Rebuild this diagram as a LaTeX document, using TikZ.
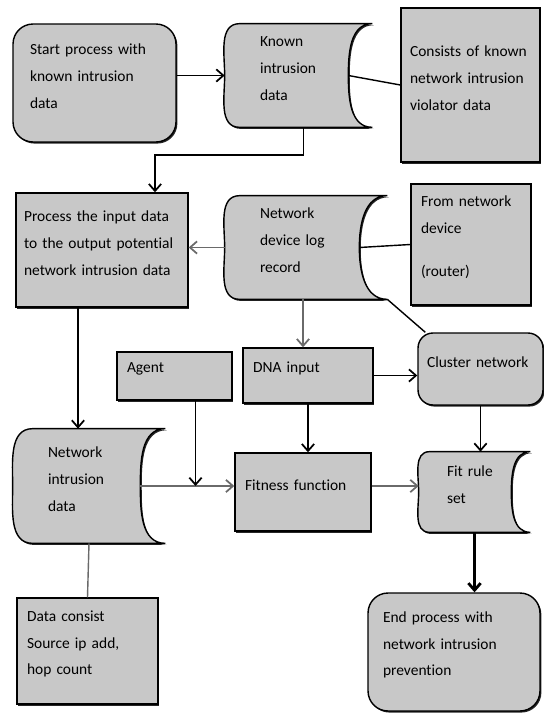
\documentclass[tikz,border=0pt]{standalone}
\usepackage{fontspec}
\setmainfont{Carlito}[Ligatures=NoCommon]
\usetikzlibrary{arrows.meta, shadows, positioning, calc, backgrounds}
\definecolor{boxgray}{HTML}{C8C8C8}
\definecolor{linegray}{HTML}{6A6A6A}

\tikzset{
  % lift the text a little above the middle of its box
  lift/.style={execute at end node={\par\nointerlineskip\hbox{\rule{0pt}{8pt}}}},
  box/.style={draw=black, fill=boxgray, line width=0.8pt, inner xsep=0.2cm, align=left, lift,
    drop shadow={shadow xshift=0.8pt, shadow yshift=-0.9pt, fill=black!85, opacity=1}},
  roundbox/.style={box, rounded corners=0.4cm},
  store/.style={inner xsep=0.7cm, align=left, lift},
  storeshape/.style={draw=black, fill=boxgray, line width=0.8pt,
    drop shadow={shadow xshift=0.8pt, shadow yshift=-0.9pt, fill=black!85, opacity=1}},
  flow/.style={-{Straight Barb[length=4pt, width=7pt]}, line width=1pt},
  grayflow/.style={flow, draw=linegray},
  link/.style={line width=0.8pt}
}

% stored data outline: node, left bulge, right bulge
\newcommand{\storedata}[3]{%
  \path[storeshape] ($(#1.north west)+(#2,0)$) -- (#1.north east)
    to[out=180, in=90] ($(#1.east)+(-#3,0)$) to[out=-90, in=180] (#1.south east)
    -- ($(#1.south west)+(#2,0)$) to[out=180, in=-90] (#1.west)
    to[out=90, in=180] ($(#1.north west)+(#2,0)$) -- cycle;
  \coordinate (#1-in) at ($(#1.east)+(-#3,0)$);
}

\begin{document}
\begin{tikzpicture}[x=0.02cm, y=0.02cm, font=\fontsize{8.8}{15.3}\selectfont]
  \useasboundingbox (0,0) rectangle (544,-713);

  % top row
  \node[roundbox, minimum width=3.26cm, minimum height=2.36cm, inner xsep=0.34cm, text width=2.58cm] (start) at (94.5,-83) {Start process with\\known intrusion\\data};
  \node[store, minimum width=2.94cm, minimum height=2.06cm, text width=1.54cm] (known) at (298.5,-75.5) {Known\\intrusion\\data};
  \node[box, minimum width=2.78cm, minimum height=3.08cm, inner xsep=0.18cm, text width=2.42cm] (consists) at (470.5,-85) {Consists of known\\network intrusion\\violator data};

  % second row
  \node[box, minimum width=3.44cm, minimum height=2.28cm, inner xsep=0.16cm, text width=3.12cm] (process) at (102,-250) {Process the input data\\to the output potential\\network intrusion data};
  \node[store, minimum width=3.24cm, minimum height=2.06cm, text width=1.84cm] (log) at (306,-247.5) {Network\\device log\\record};
  \node[box, minimum width=2.4cm, minimum height=2.42cm, text width=2.0cm] (fromnet) at (471,-244.5) {From network\\device\\[9pt](router)};

  % third row
  \node[box, minimum width=2.3cm, minimum height=0.96cm, text width=1.9cm] (agent) at (174.5,-376) {Agent};
  \node[box, minimum width=2.6cm, minimum height=1.1cm, text width=2.2cm] (dna) at (308,-375.5) {DNA input};
  \node[roundbox, rounded corners=0.3cm, minimum width=2.5cm, minimum height=1.44cm, inner xsep=0.18cm, text width=2.14cm] (cluster) at (480.5,-369) {Cluster network};

  % fourth row
  \node[store, minimum width=3.04cm, minimum height=2.28cm, text width=1.64cm] (netdata) at (89,-486) {Network\\intrusion\\data};
  \node[box, minimum width=2.72cm, minimum height=1.56cm, text width=2.32cm] (fitness) at (303,-492) {Fitness function};
  \node[store, minimum width=2.22cm, minimum height=1.6cm, inner xsep=0.56cm, text width=1.1cm] (fitrule) at (474.5,-492) {Fit rule\\set};

  % bottom row
  \node[box, minimum width=2.82cm, minimum height=2.12cm, text width=2.42cm] (datac) at (87.5,-651) {Data consist\\Source ip add,\\hop count};
  \node[roundbox, minimum width=3.44cm, minimum height=2.36cm, inner xsep=0.3cm, text width=2.84cm] (endp) at (454,-652) {End process with\\network intrusion\\prevention};

  \begin{scope}[on background layer]
    \storedata{known}{15}{24}
    \storedata{log}{15}{28}
    \storedata{netdata}{20}{25}
    \storedata{fitrule}{11}{19}
  \end{scope}

  % connectors
  \draw[flow] (start.east |- known.west) -- (known.west);
  \draw[link] (known-in) -- (consists.west);
  \draw[flow] ($(known.south)+(5,0)$) -- ++(0,-28) -| ($(process.north)+(53,0)$);
  \draw[grayflow] (log.west) -- (log.west -| process.east);
  \draw[link] (log-in) -- (fromnet.west);
  \draw[link] (log.south east) -- ($(cluster.north west)+(8,0)$);
  \draw[grayflow] ($(log.south)+(-3,0)$) coordinate (l1) -- (l1 |- dna.north);
  \draw[flow] (dna.east) -- (dna.east -| cluster.west);
  \draw[flow] ($(process.south)+(-24,0)$) coordinate (p1) -- (p1 |- netdata.north);
  \draw[grayflow] (netdata-in) -- (netdata-in -| fitness.west);
  \draw[flow] ($(agent.south)+(21,0)$) coordinate (a1) -- (a1 |- netdata-in);
  \draw[flow] (dna.south) -- (dna.south |- fitness.north);
  \draw[grayflow] (fitness.east |- netdata-in) -- (netdata-in -| fitrule.west);
  \draw[flow] (cluster.south) -- (cluster.south |- fitrule.north);
  \draw[flow, line width=1.6pt] (fitrule.south) -- (fitrule.south |- endp.north);
  \draw[link, draw=linegray] (netdata.south) -- (datac.north);
\end{tikzpicture}
\end{document}
